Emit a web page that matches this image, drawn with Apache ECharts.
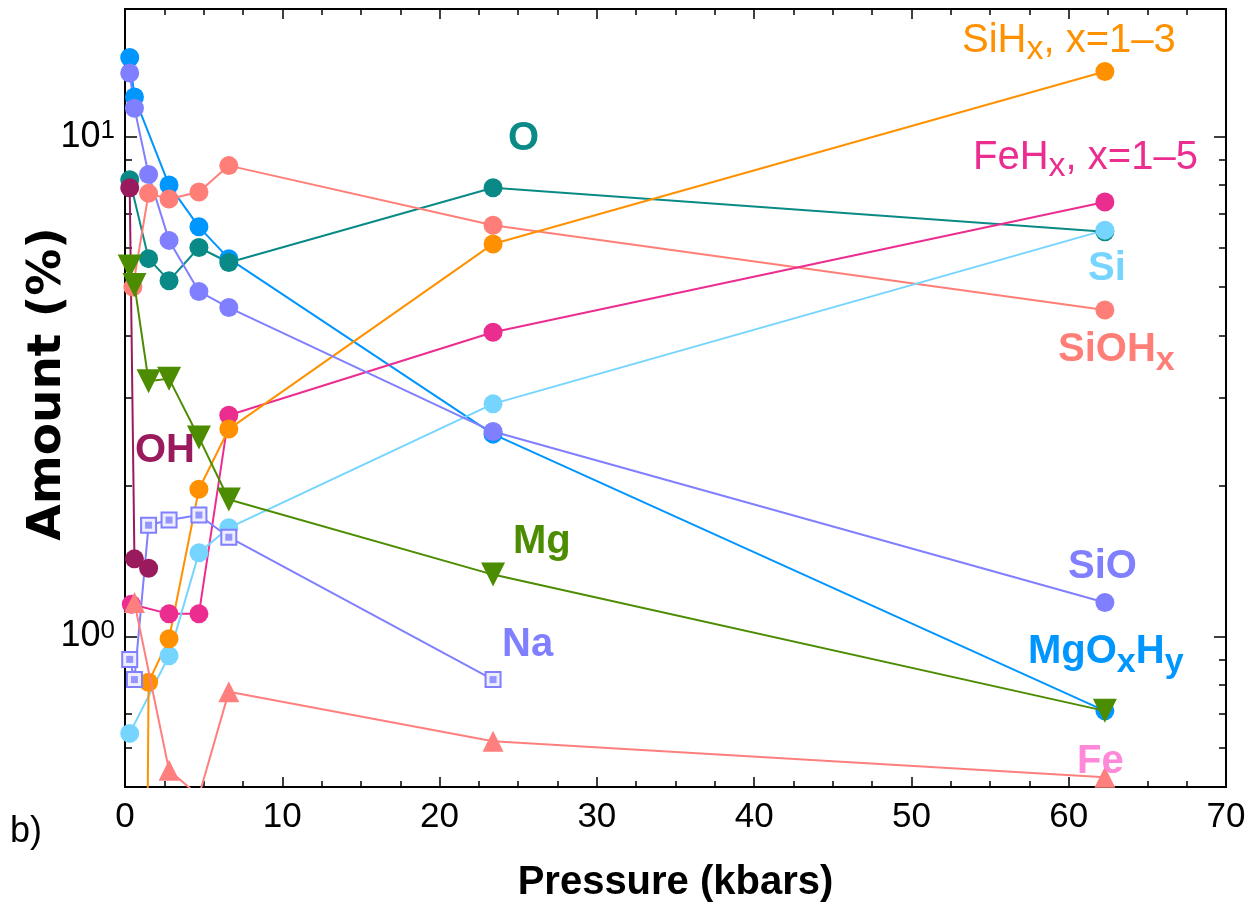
<!DOCTYPE html>
<html><head><meta charset="utf-8">
<script src="https://cdn.jsdelivr.net/npm/echarts@6/dist/echarts.min.js"></script>
<style>html,body{margin:0;padding:0;background:#fff}#c{width:1248px;height:905px}</style>
</head><body><div id="c"></div>
<script>
// ---- data (pressure in kbars, amount in %) ----
const xTicks = [0, 10, 20, 30, 40, 50, 60, 70];
const yMajorTicks = [1, 10];
const yMinorTicks = [0.5, 0.6, 0.7, 0.8, 0.9, 2, 3, 4, 5, 6, 7, 8, 9];

const mgoxhyP = [0.3, 0.6, 2.8, 4.7, 6.6, 23.4, 62.3];
const mgoxhyV = [14.4, 12.0, 8.0, 6.6, 5.7, 2.54, 0.71];
const oP = [0.3, 1.5, 2.8, 4.7, 6.6, 23.4, 62.3];
const oV = [8.2, 5.7, 5.15, 6.0, 5.6, 7.9, 6.45];
const siohP = [0.5, 1.5, 2.8, 4.7, 6.6, 23.4, 62.3];
const siohV = [5.0, 7.7, 7.5, 7.75, 8.75, 6.65, 4.5];
const fehP = [0.4, 2.8, 4.7, 6.6, 23.4, 62.3];
const fehV = [1.16, 1.11, 1.11, 2.77, 4.06, 7.4];
const siP = [0.3, 2.8, 4.7, 6.6, 23.4, 62.3];
const siV = [0.64, 0.915, 1.47, 1.65, 2.92, 6.5];
const sihP = [0.3, 1.5, 2.8, 4.7, 6.6, 23.4, 62.3];
const sihV = [0.00001, 0.81, 0.99, 1.97, 2.6, 6.1, 13.5];
const sioP = [0.3, 0.6, 1.5, 2.8, 4.7, 6.6, 23.4, 62.3];
const sioV = [13.4, 11.4, 8.4, 6.2, 4.9, 4.55, 2.57, 1.17];
const ohP = [0.3, 0.6, 1.5];
const ohV = [7.9, 1.43, 1.37];
const naP = [0.3, 0.6, 1.5, 2.8, 4.7, 6.6, 23.4];
const naV = [0.90, 0.82, 1.67, 1.71, 1.75, 1.58, 0.82];
const feP = [0.6, 2.8, 4.7, 6.6, 23.4, 62.3];
const feV = [1.17, 0.54, 0.48, 0.775, 0.617, 0.523];
const mgP = [0.3, 0.6, 1.5, 2.8, 4.7, 6.6, 23.4, 62.3];
const mgV = [5.5, 5.05, 3.24, 3.28, 2.5, 1.88, 1.33, 0.71];

const C = {
  mgoxhy: '#0096FF', o: '#0a8a86', sioh: '#ff7f78', feh: '#ec2d90', si: '#76d5fe',
  sih: '#ff9100', sio: '#7f7fff', oh: '#9a1a5e', na: '#7f7fff', fe: '#ff7f7f', mg: '#4c8c00', feLabel: '#ff88d8'
};

const zip = (p, v) => p.map((x, i) => [x, v[i]]);
function line(name, p, v, color, symbol, size, extra) {
  return Object.assign({
    name, type: 'line', data: zip(p, v), symbol, symbolSize: size,
    lineStyle: { color, width: 2 }, itemStyle: { color },
    emphasis: { disabled: true }, animation: false, clip: true
  }, extra || {});
}

const chart = echarts.init(document.getElementById('c'), null, { renderer: 'canvas' });
const axisFont = 'Liberation Sans';
const tickStyle = { show: true, inside: true, lineStyle: { color: '#000', width: 1.5 } };

const xBase = {
  type: 'value', min: 0, max: 70, interval: 10,
  axisLine: { show: false }, splitLine: { show: false },
  axisTick: Object.assign({}, tickStyle, { length: 10 }),
  minorTick: { show: true, splitNumber: 4, length: 6, lineStyle: { color: '#000', width: 1.5 } },
};
const yBase = {
  type: 'log', logBase: 10, min: 0.5, max: 18,
  axisLine: { show: false }, splitLine: { show: false }, minorTick: { show: false }
};

const option = {
  backgroundColor: '#fff',
  animation: false,
  grid: { left: 125, right: 22, top: 9, bottom: 118, outerBoundsMode: 'none', containLabel: false,
          show: true, borderColor: '#000', borderWidth: 2, backgroundColor: 'transparent' },
  xAxis: [
    Object.assign({}, xBase, {
      position: 'bottom',
      axisLabel: { show: true, color: '#000', fontSize: 35, fontFamily: axisFont, margin: 13, customValues: xTicks },
      name: 'Pressure (kbars)', nameLocation: 'middle', nameGap: 76, nameMoveOverlap: false,
      nameTextStyle: { color: '#000', fontSize: 40, fontWeight: 'bold', fontFamily: axisFont }
    }),
    Object.assign({}, xBase, { position: 'top', axisLabel: { show: false } })
  ],
  yAxis: [
    Object.assign({}, yBase, {
      position: 'left',
      axisTick: Object.assign({}, tickStyle, { length: 12, customValues: yMajorTicks }),
      axisLabel: {
        show: true, customValues: yMajorTicks, margin: 10, color: '#000',
        formatter: v => '10{sup|' + Math.round(Math.log10(v)) + '}',
        rich: { sup: { fontSize: 26, fontFamily: axisFont, color: '#000', verticalAlign: 'top', lineHeight: 18 } },
        fontSize: 36, fontFamily: axisFont, lineHeight: 38
      },
      name: 'Amount (%)', nameLocation: 'middle', nameGap: 54, nameMoveOverlap: false,
      nameTextStyle: { color: '#000', fontSize: 47, fontWeight: 'bold', fontFamily: 'DejaVu Sans', padding: [0, 0, 0, 28] }
    }),
    Object.assign({}, yBase, {
      position: 'left', axisLabel: { show: false },
      axisTick: Object.assign({}, tickStyle, { length: 7, customValues: yMinorTicks })
    }),
    Object.assign({}, yBase, {
      position: 'right', axisLabel: { show: false },
      axisTick: Object.assign({}, tickStyle, { length: 12, customValues: yMajorTicks })
    }),
    Object.assign({}, yBase, {
      position: 'right', axisLabel: { show: false },
      axisTick: Object.assign({}, tickStyle, { length: 7, customValues: yMinorTicks })
    })
  ],
  series: [
    line('MgOxHy', mgoxhyP, mgoxhyV, C.mgoxhy, 'circle', 19),
    line('O', oP, oV, C.o, 'circle', 19),
    line('SiOHx', siohP, siohV, C.sioh, 'circle', 19),
    line('FeHx', fehP, fehV, C.feh, 'circle', 19),
    line('Si', siP, siV, C.si, 'circle', 19),
    line('SiHx', sihP, sihV, C.sih, 'circle', 19),
    line('SiO', sioP, sioV, C.sio, 'circle', 19),
    line('OH', ohP, ohV, C.oh, 'circle', 19),
    line('Na', naP, naV, C.na, 'rect', 15, { itemStyle: { color: '#eeeeff', borderColor: C.na, borderWidth: 2 } }),
    { name: 'Na-inner', type: 'scatter', data: zip(naP, naV), symbol: 'rect', symbolSize: 7, z: 5,
      itemStyle: { color: C.na }, emphasis: { disabled: true }, animation: false },
    line('Fe', feP, feV, C.fe, 'triangle', 21, { z: 6 }),
    line('Mg', mgP, mgV, C.mg, 'triangle', 24, { symbolRotate: 180, z: 7 })
  ],
  graphic: []
};

const bold = '"Liberation Sans", Arial, sans-serif';
function label(x, y, text, color, weight, rich) {
  return {
    type: 'text', x, y, z: 100,
    style: {
      text, fill: color, fontSize: 40, fontWeight: weight, fontFamily: bold,
      align: 'left', verticalAlign: 'middle', lineHeight: 44,
      rich: rich || {}
    }
  };
}
function subRich(color, weight, drop) {
  return {
    m: { fontSize: 40, fontWeight: weight, fontFamily: bold, fill: color, color, lineHeight: 44, verticalAlign: 'top' },
    s: { fontSize: 34, fontWeight: weight, fontFamily: bold, fill: color, color, lineHeight: 44, verticalAlign: 'top',
         padding: [drop, 0, 0, 0] }
  };
}
option.graphic = [
  label(962, 43, '{m|SiH}{s|x}{m|, x=1–3}', C.sih, 'normal', subRich(C.sih, 'normal', 12)),
  label(973, 160, '{m|FeH}{s|x}{m|, x=1–5}', C.feh, 'normal', subRich(C.feh, 'normal', 12)),
  label(508, 139, 'O', C.o, 'bold'),
  label(1088, 269, 'Si', C.si, 'bold'),
  label(1058, 352, '{m|SiOH}{s|x}', C.sioh, 'bold', subRich(C.sioh, 'bold', 14)),
  label(135, 451, 'OH', C.oh, 'bold'),
  label(513, 542, 'Mg', C.mg, 'bold'),
  label(1068, 567, 'SiO', C.sio, 'bold'),
  label(1028, 654, '{m|MgO}{s|x}{m|H}{s|y}', C.mgoxhy, 'bold', subRich(C.mgoxhy, 'bold', 14)),
  label(502, 645, 'Na', C.na, 'bold'),
  label(1077, 762, 'Fe', C.feLabel, 'bold'),
  { type: 'text', x: 10, y: 832, style: { text: 'b)', fill: '#000', fontSize: 36, fontFamily: bold, align: 'left', verticalAlign: 'middle' } }
];

chart.setOption(option);
</script>
</body></html>
